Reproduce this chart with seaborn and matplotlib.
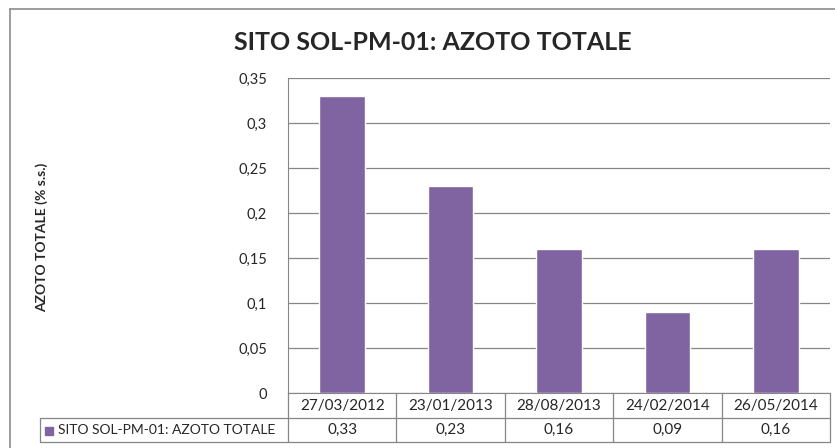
import matplotlib
matplotlib.use("Agg")
import matplotlib.pyplot as plt
import matplotlib.transforms as mtransforms
from matplotlib.lines import Line2D
from matplotlib.patches import Rectangle
import pandas as pd
import seaborn as sns

# data
dates = ["27/03/2012", "23/01/2013", "28/08/2013", "24/02/2014", "26/05/2014"]
azoto = [0.33, 0.23, 0.16, 0.09, 0.16]
yticks = [0, 0.05, 0.1, 0.15, 0.2, 0.25, 0.3, 0.35]
series_name = "SITO SOL-PM-01: AZOTO TOTALE"

BAR = "#8064A2"
GRID = "#868686"
W, H = 835, 448

sns.set_style("white")
plt.rcParams["font.family"] = ["Lato", "DejaVu Sans"]

df = pd.DataFrame({"data": dates, "azoto": azoto})

fig = plt.figure(figsize=(W / 100, H / 100), dpi=100)
ax = fig.add_axes([288 / W, (H - 393) / H, (830 - 288) / W, (393 - 78) / H])

sns.barplot(data=df, x="data", y="azoto", color=BAR, width=0.42, saturation=1, ax=ax)
ax.set_xlim(-0.5, len(dates) - 0.5)
ax.set_ylim(0, 0.35)
ax.set_yticks(yticks)
ax.set_yticklabels([f"{v:g}".replace(".", ",") for v in yticks], fontsize=10.5)
ax.tick_params(axis="y", length=5, color=GRID, pad=10)
ax.tick_params(axis="x", length=0, labelbottom=False)
ax.yaxis.grid(True, color=GRID, linewidth=0.9)
ax.set_axisbelow(True)
ax.set_xlabel("")
ax.set_ylabel("")
for s in ["top", "right"]:
    ax.spines[s].set_visible(False)
for s in ["left", "bottom"]:
    ax.spines[s].set_color(GRID)

# title and y label
fig.text(433 / W, 1 - 42 / H, series_name, ha="center", va="center",
         fontsize=18, fontweight="bold")
fig.text(42 / W, 1 - 237 / H, "AZOTO TOTALE (% s.s.)", rotation=90,
         ha="center", va="center", fontsize=10, fontweight="bold")

# chart frame
fig.add_artist(Line2D([10 / W, 1], [1 - 9 / H, 1 - 9 / H], color="#8c8c8c", lw=1.2))
fig.add_artist(Line2D([10 / W, 10 / W], [1 - 9 / H, 0], color="#8c8c8c", lw=1.2))

# data table below the axis
tr = mtransforms.blended_transform_factory(ax.transData, fig.transFigure)
y_top, y_mid, y_bot = 1 - 393 / H, 1 - 418 / H, 1 - 442 / H
for i in range(len(dates) + 1):
    ax.add_line(Line2D([i - 0.5, i - 0.5], [y_top, y_bot], transform=tr,
                       color=GRID, lw=0.9, clip_on=False))
fig.add_artist(Line2D([40 / W, 830 / W], [y_mid, y_mid], color=GRID, lw=0.9))
fig.add_artist(Line2D([40 / W, 830 / W], [y_bot, y_bot], color=GRID, lw=0.9))
fig.add_artist(Line2D([40 / W, 40 / W], [y_mid, y_bot], color=GRID, lw=0.9))
for i, (d, v) in enumerate(zip(dates, azoto)):
    ax.text(i, (y_top + y_mid) / 2, d, transform=tr, ha="center", va="center", fontsize=11)
    ax.text(i, (y_mid + y_bot) / 2, f"{v:.2f}".replace(".", ","), transform=tr,
            ha="center", va="center", fontsize=11)
fig.add_artist(Rectangle((45 / W, 1 - 435 / H), 8 / W, 8 / H, color=BAR))
fig.text(58 / W, (y_mid + y_bot) / 2, series_name, ha="left", va="center", fontsize=10)

fig.savefig("out.png", dpi=100)
